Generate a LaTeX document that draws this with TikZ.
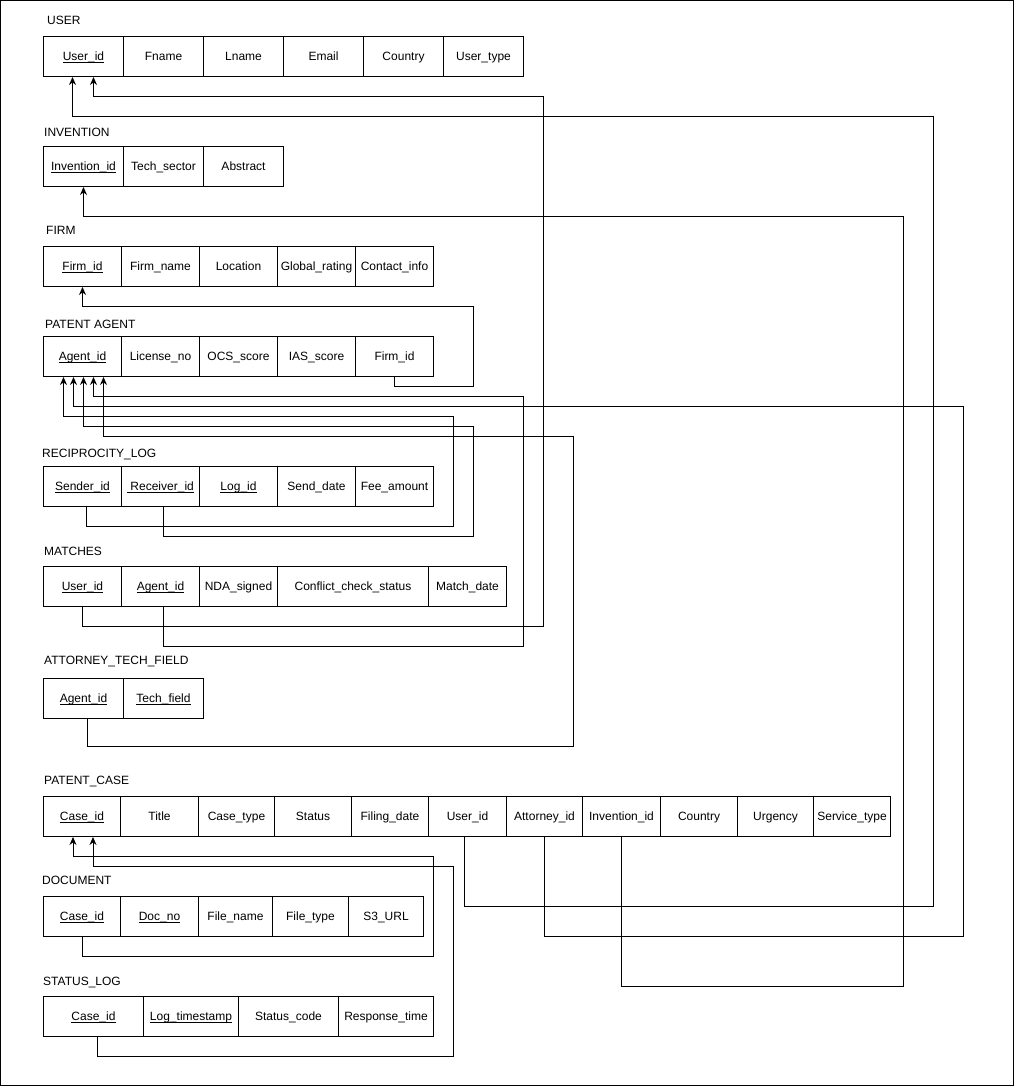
\documentclass[tikz,border=0pt]{standalone}
\usepackage{fontspec}
\setmainfont{Liberation Sans}
\usetikzlibrary{arrows.meta}
\newcommand\pkul[1]{{\setbox0\hbox{#1}\rlap{\rule[-1.8pt]{\wd0}{0.7pt}}\box0}}
\begin{document}
\begin{tikzpicture}[x=1pt,y=-1pt,
  cell/.style={draw, line width=1pt, minimum height=40pt, inner sep=0pt, text height=10pt, text depth=2pt, anchor=north west, font=\fontsize{12}{14}\selectfont},
  title/.style={anchor=west, inner sep=0pt, text height=9pt, text depth=2.5pt, font=\fontsize{12}{14}\selectfont},
  fk/.style={draw, line width=1pt, -{Stealth[length=8pt,width=7pt]}}]
\useasboundingbox (0,0) rectangle (1014,1086);
\draw[line width=1pt] (0.5,0.5) rectangle (1013.5,1085.5);

% USER
\node[title] (tUser) at (47,21.5) {USER};
\node[cell,minimum width=80] (u1) at (43,36) {\pkul{User\_id}};
\node[cell,minimum width=80] (u2) at (123,36) {Fname};
\node[cell,minimum width=80] (u3) at (203,36) {Lname};
\node[cell,minimum width=80] (u4) at (283,36) {Email};
\node[cell,minimum width=80] (u5) at (363,36) {Country};
\node[cell,minimum width=80] (u6) at (443,36) {User\_type};

% INVENTION
\node[title] (tInv) at (44,133.5) {INVENTION};
\node[cell,minimum width=80] (inv1) at (43,146) {\pkul{Invention\_id}};
\node[cell,minimum width=80] (inv2) at (123,146) {Tech\_sector};
\node[cell,minimum width=80] (inv3) at (203,146) {Abstract};

% FIRM
\node[title] (tFirm) at (46,231.5) {FIRM};
\node[cell,minimum width=78] (f1) at (43,246) {\pkul{Firm\_id}};
\node[cell,minimum width=78] (f2) at (121,246) {Firm\_name};
\node[cell,minimum width=78] (f3) at (199,246) {Location};
\node[cell,minimum width=78] (f4) at (277,246) {Global\_rating};
\node[cell,minimum width=78] (f5) at (355,246) {Contact\_info};

% PATENT AGENT
\node[title] (tPA) at (45,325.5) {PATENT AGENT};
\node[cell,minimum width=78] (pa1) at (43,336) {\pkul{Agent\_id}};
\node[cell,minimum width=78] (pa2) at (121,336) {License\_no};
\node[cell,minimum width=78] (pa3) at (199,336) {OCS\_score};
\node[cell,minimum width=78] (pa4) at (277,336) {IAS\_score};
\node[cell,minimum width=78] (pa5) at (355,336) {Firm\_id};

% RECIPROCITY_LOG
\node[title] (tRL) at (42,454.5) {RECIPROCITY\_LOG};
\node[cell,minimum width=78] (rl1) at (43,466) {\pkul{Sender\_id}};
\node[cell,minimum width=78] (rl2) at (121,466) {\pkul{ Receiver\_id}};
\node[cell,minimum width=78] (rl3) at (199,466) {\pkul{Log\_id}};
\node[cell,minimum width=78] (rl4) at (277,466) {Send\_date};
\node[cell,minimum width=78] (rl5) at (355,466) {Fee\_amount};

% MATCHES
\node[title] (tM) at (44,552.5) {MATCHES};
\node[cell,minimum width=78] (m1) at (43,566) {\pkul{User\_id}};
\node[cell,minimum width=78] (m2) at (121,566) {\pkul{Agent\_id}};
\node[cell,minimum width=78] (m3) at (199,566) {NDA\_signed};
\node[cell,minimum width=151] (m4) at (277,566) {Conflict\_check\_status};
\node[cell,minimum width=78] (m5) at (428,566) {Match\_date};

% ATTORNEY_TECH_FIELD
\node[title] (tATF) at (44,661.5) {ATTORNEY\_TECH\_FIELD};
\node[cell,minimum width=80] (atf1) at (43,678) {\pkul{Agent\_id}};
\node[cell,minimum width=80] (atf2) at (123,678) {\pkul{Tech\_field}};

% PATENT_CASE
\node[title] (tPC) at (44,781.5) {PATENT\_CASE};
\node[cell,minimum width=77] (pc1) at (43,796) {\pkul{Case\_id}};
\node[cell,minimum width=78] (pc2) at (120,796) {Title};
\node[cell,minimum width=76] (pc3) at (198,796) {Case\_type};
\node[cell,minimum width=77] (pc4) at (274,796) {Status};
\node[cell,minimum width=77] (pc5) at (351,796) {Filing\_date};
\node[cell,minimum width=78] (pc6) at (428,796) {User\_id};
\node[cell,minimum width=76] (pc7) at (506,796) {Attorney\_id};
\node[cell,minimum width=78] (pc8) at (582,796) {Invention\_id};
\node[cell,minimum width=77] (pc9) at (660,796) {Country};
\node[cell,minimum width=76] (pc10) at (737,796) {Urgency};
\node[cell,minimum width=77] (pc11) at (813,796) {Service\_type};

% DOCUMENT
\node[title] (tD) at (42,881.5) {DOCUMENT};
\node[cell,minimum width=77] (d1) at (43,896) {\pkul{Case\_id}};
\node[cell,minimum width=78] (d2) at (120,896) {\pkul{Doc\_no}};
\node[cell,minimum width=74] (d3) at (198,896) {File\_name};
\node[cell,minimum width=76] (d4) at (272,896) {File\_type};
\node[cell,minimum width=75] (d5) at (348,896) {S3\_URL};

% STATUS_LOG
\node[title] (tSL) at (43,982.5) {STATUS\_LOG};
\node[cell,minimum width=100] (sl1) at (43,996) {\pkul{Case\_id}};
\node[cell,minimum width=95] (sl2) at (143,996) {\pkul{Log\_timestamp}};
\node[cell,minimum width=100] (sl3) at (238,996) {Status\_code};
\node[cell,minimum width=95] (sl4) at (338,996) {Response\_time};

% connectors
\draw[fk] ([xshift=-3]pc6.south) |- (933,906) -- (933,117) -| ([xshift=-11]u1.south);
\draw[fk] (m1.south) |- (543,626) -- (543,97) -| ([xshift=10]u1.south);
\draw[fk] (pc8.south) |- (903,986) -- (903,216) -| (inv1.south);
\draw[fk] (pa5.south) |- (473,386) -- (473,306) -| (f1.south);
\draw[fk] ([xshift=3]m2.south) |- (523,646) -- (523,396) -| ([xshift=11]pa1.south);
\draw[fk] (pc7.south) |- (963,936) -- (963,406) -| ([xshift=-9]pa1.south);
\draw[fk] ([xshift=4]rl1.south) |- (453,526) -- (453,416) -| ([xshift=-19]pa1.south);
\draw[fk] ([xshift=3]rl2.south) |- (473,536) -- (473,426) -| ([xshift=1]pa1.south);
\draw[fk] ([xshift=4]atf1.south) |- (573,746) -- (573,436) -| ([xshift=21]pa1.south);
\draw[fk] (d1.south) |- (433,956) -- (433,856) -| ([xshift=-9]pc1.south);
\draw[fk] ([xshift=4]sl1.south) |- (453,1056) -- (453,866) -| ([xshift=11]pc1.south);
\end{tikzpicture}
\end{document}
